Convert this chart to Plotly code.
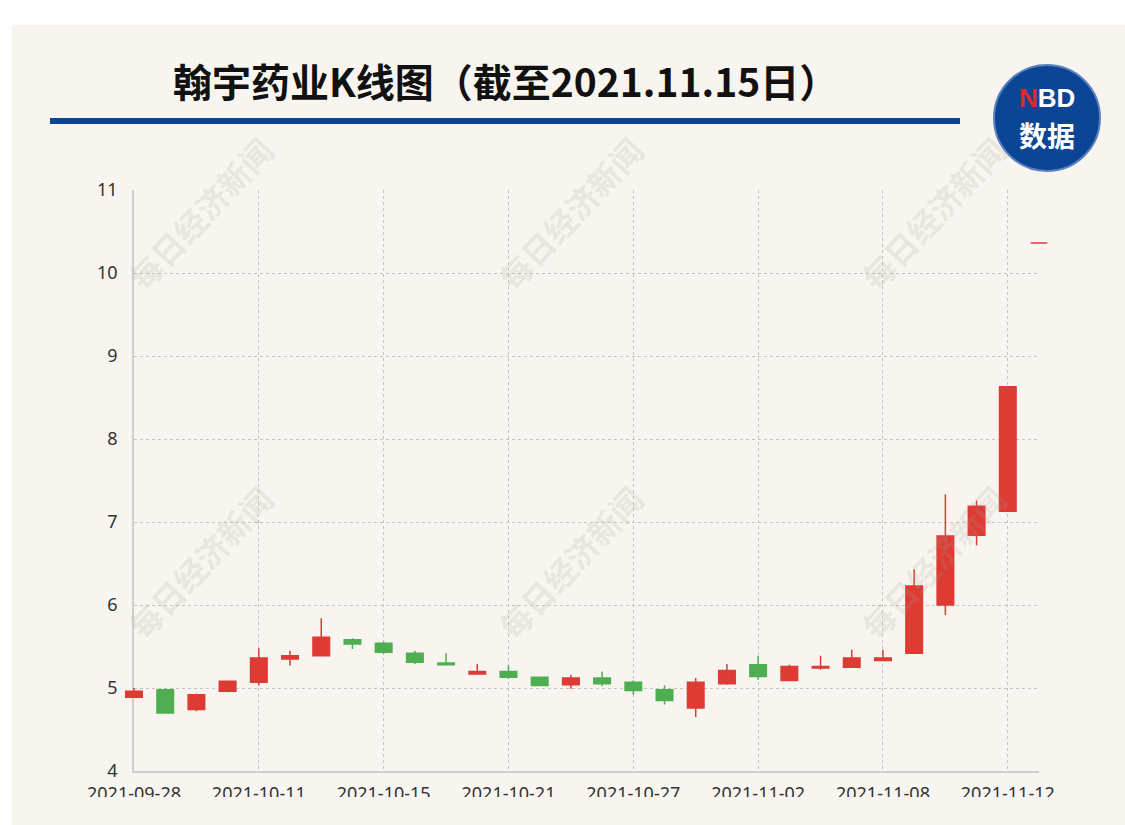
import plotly.graph_objects as go

# ---------------- data ----------------
dates = ["2021-09-28", "2021-09-29", "2021-09-30", "2021-10-08", "2021-10-11",
         "2021-10-12", "2021-10-13", "2021-10-14", "2021-10-15", "2021-10-18",
         "2021-10-19", "2021-10-20", "2021-10-21", "2021-10-22", "2021-10-25",
         "2021-10-26", "2021-10-27", "2021-10-28", "2021-10-29", "2021-11-01",
         "2021-11-02", "2021-11-03", "2021-11-04", "2021-11-05", "2021-11-08",
         "2021-11-09", "2021-11-10", "2021-11-11", "2021-11-12", "2021-11-15"]
open_ = [4.89, 4.98, 4.74, 4.96, 5.07, 5.35, 5.39, 5.58, 5.54, 5.42,
         5.30, 5.17, 5.20, 5.13, 5.04, 5.12, 5.07, 4.98, 4.76, 5.05,
         5.28, 5.09, 5.24, 5.25, 5.33, 5.42, 6.00, 6.84, 7.13, 10.36]
high = [5.00, 4.99, 4.93, 5.09, 5.48, 5.45, 5.84, 5.60, 5.56, 5.45,
        5.42, 5.29, 5.27, 5.14, 5.16, 5.20, 5.09, 5.03, 5.12, 5.29,
        5.39, 5.28, 5.39, 5.46, 5.46, 6.43, 7.33, 7.26, 8.63, 10.36]
low = [4.89, 4.69, 4.72, 4.95, 5.03, 5.27, 5.39, 5.47, 5.41, 5.29,
       5.28, 5.17, 5.11, 5.03, 4.99, 5.02, 4.92, 4.80, 4.65, 5.04,
       5.10, 5.09, 5.22, 5.25, 5.33, 5.42, 5.88, 6.72, 7.13, 10.36]
close = [4.96, 4.70, 4.92, 5.08, 5.36, 5.39, 5.61, 5.53, 5.43, 5.31,
         5.28, 5.20, 5.13, 5.03, 5.12, 5.05, 4.97, 4.85, 5.07, 5.21,
         5.14, 5.26, 5.26, 5.36, 5.36, 6.23, 6.83, 7.19, 8.63, 10.36]
y_ticks = [4, 5, 6, 7, 8, 9, 10, 11]
label_step = 4
title_text = "翰宇药业K线图（截至2021.11.15日）"
watermark = "每日经济新闻"

# ---------------- layout helpers (pixel -> paper) ----------------
W, H = 1125, 825
def px(x):
    return x / W
def py(y):
    return 1 - y / H

idx = list(range(len(dates)))
PL, PR, PT, PB = 134, 1039, 190, 771        # plot frame in pixels
unit = (PR - PL) / (len(dates) - 1)
pad = 0.6                                    # extra room for edge candles

RED = "#DD3B34"
GREEN = "#4FAE52"

fig = go.Figure()

# frame subplot (x / y): grid, ticks, axis lines
fig.add_trace(go.Scatter(x=[], y=[], xaxis="x", yaxis="y", showlegend=False,
                         hoverinfo="skip"))

# candles on an overlaid, slightly wider subplot with identical scale
fig.add_trace(go.Candlestick(
    x=idx, open=open_, high=high, low=low, close=close,
    xaxis="x2", yaxis="y2",
    increasing=dict(line=dict(color=RED, width=1.5), fillcolor=RED),
    decreasing=dict(line=dict(color=GREEN, width=1.5), fillcolor=GREEN),
    whiskerwidth=0, showlegend=False, hoverinfo="skip",
))

tick_idx = idx[::label_step]
tick_txt = dates[::label_step]

grid_common = dict(gridcolor="#C4C4C4", griddash="3px,3px", gridwidth=1)
tick_font = dict(family="Noto Sans", size=18, color="#333333")

fig.update_layout(
    width=W, height=H,
    margin=dict(l=0, r=0, t=0, b=0),
    paper_bgcolor="white",
    plot_bgcolor="rgba(0,0,0,0)",
    boxgap=0.47, boxgroupgap=0,
    xaxis=dict(domain=[px(PL), px(PR)], range=[0, len(dates) - 1], anchor="y",
               tickmode="array", tickvals=tick_idx, ticktext=tick_txt,
               showgrid=True, **grid_common, zeroline=False,
               showline=True, linecolor="#CFCFCF", linewidth=1.5, ticks="",
               ticklabelstandoff=6, tickfont=tick_font,
               fixedrange=True, automargin=False),
    yaxis=dict(domain=[py(PB), py(PT)], range=[y_ticks[0], y_ticks[-1]], anchor="x",
               tickmode="array", tickvals=y_ticks,
               showgrid=True, **grid_common, zeroline=False,
               showline=True, linecolor="#CFCFCF", linewidth=1.5, ticks="",
               ticklabelstandoff=11, tickfont=tick_font,
               fixedrange=True, automargin=False),
    xaxis2=dict(domain=[px(PL - pad * unit), px(PR + pad * unit)],
                range=[-pad, len(dates) - 1 + pad], anchor="y2",
                visible=False, rangeslider=dict(visible=False), fixedrange=True),
    yaxis2=dict(domain=[py(PB), py(PT)], range=[y_ticks[0], y_ticks[-1]], anchor="x2",
                visible=False, fixedrange=True),
    hovermode=False,
)

shapes = [
    # beige card
    dict(type="rect", xref="paper", yref="paper", x0=px(12), x1=1, y0=0, y1=py(25),
         fillcolor="#F8F5F0", line=dict(width=0), layer="below"),
    # blue title rule
    dict(type="rect", xref="paper", yref="paper", x0=px(50), x1=px(960),
         y0=py(124), y1=py(118), fillcolor="#0C4596", line=dict(width=0), layer="below"),
    # logo circle
    dict(type="circle", xref="paper", yref="paper", x0=px(994), x1=px(1100),
         y0=py(171), y1=py(65), fillcolor="#0C4596",
         line=dict(color="#5B82BE", width=2), layer="above"),
    # bottom edge of the card crops the date labels
    dict(type="rect", xref="paper", yref="paper", x0=px(12), x1=1, y0=0, y1=py(797),
         fillcolor="#F8F5F0", line=dict(width=0), layer="above"),
]

annotations = [
    dict(text=title_text, xref="paper", yref="paper", x=px(505), y=py(80),
         xanchor="center", yanchor="middle", showarrow=False,
         font=dict(family="Noto Sans CJK SC", size=39, color="#111111", weight=700)),
    dict(text="<span style='color:#E8242B'>N</span>BD", xref="paper", yref="paper",
         x=px(1047), y=py(98), xanchor="center", yanchor="middle", showarrow=False,
         font=dict(family="Liberation Sans", size=26, color="white", weight=700)),
    dict(text="数据", xref="paper", yref="paper", x=px(1047), y=py(135),
         xanchor="center", yanchor="middle", showarrow=False,
         font=dict(family="Noto Sans CJK SC", size=28, color="white", weight=700)),
]
for cx in (200, 570, 933):
    for cy in (213, 562):
        annotations.append(dict(
            text=watermark, xref="paper", yref="paper", x=px(cx), y=py(cy),
            xanchor="center", yanchor="middle", showarrow=False, textangle=-47,
            font=dict(family="Noto Sans CJK SC", size=32, color="rgba(170,160,150,0.2)",
                      weight=700)))

fig.update_layout(shapes=shapes, annotations=annotations)

fig.write_html("out.html", config={"displayModeBar": False},
               post_script="document.body.style.margin='0';document.body.style.overflow='hidden';")
